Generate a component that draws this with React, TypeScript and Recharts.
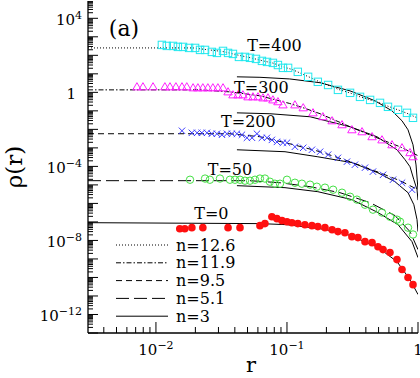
import React from 'react';
import { ComposedChart, Line, Scatter, XAxis, YAxis, ReferenceDot, Legend } from 'recharts';

const FONT = '"DejaVu Serif", "Liberation Serif", serif';

// ---- axes ----
const xDomain = [0.00303, 1];
const yDomain = [1e-13, 8.6e4];
const xLabelExps = [-2, -1, 0];
const yLabelExps = [-12, -8, -4, 0, 4];

// ---- T = 400 (cyan squares) ----
const t400R = [0.0111, 0.0121, 0.0135, 0.0147, 0.0161, 0.0179, 0.0199, 0.0217, 0.0237, 0.0267, 0.0292, 0.0325, 0.0355, 0.0387, 0.043, 0.0478, 0.0522, 0.058, 0.0644, 0.0704, 0.0781, 0.0853, 0.0932, 0.102, 0.121, 0.145, 0.172, 0.206, 0.245, 0.303, 0.361, 0.431, 0.513, 0.59, 0.704, 0.824, 0.916];
const t400Rho = [365, 322, 322, 285, 285, 251, 251, 196, 196, 153, 135, 173, 135, 119, 82, 82, 73, 64, 50, 44, 39, 30, 21, 21, 12.8, 6.9, 3.7, 2.5, 1.36, 0.94, 0.57, 0.39, 0.27, 0.165, 0.114, 0.078, 0.042];
// ---- T = 300 (magenta triangles) ----
const t300R = [0.00716, 0.00796, 0.0095, 0.0117, 0.0128, 0.0142, 0.0158, 0.0172, 0.0192, 0.0209, 0.0228, 0.0249, 0.0272, 0.0297, 0.0325, 0.0355, 0.0387, 0.0423, 0.0461, 0.0504, 0.055, 0.0601, 0.0656, 0.0716, 0.0781, 0.0853, 0.0932, 0.115, 0.133, 0.158, 0.188, 0.221, 0.263, 0.313, 0.374, 0.446, 0.531, 0.633, 0.755, 0.869, 0.916];
const t300Rho = [1.98, 1.98, 1.98, 1.98, 1.98, 1.98, 1.98, 1.98, 1.75, 1.75, 1.75, 1.75, 1.75, 1.75, 1.75, 1.06, 0.73, 0.73, 0.73, 0.57, 0.57, 0.57, 0.5, 0.5, 0.39, 0.31, 0.21, 0.21, 0.146, 0.078, 0.048, 0.029, 0.0177, 0.0095, 0.0074, 0.004, 0.0027, 0.00147, 0.00101, 5.5e-4, 3.3e-4];
// ---- T = 200 (blue crosses) ----
const t200R = [0.0158, 0.0188, 0.0206, 0.0224, 0.0245, 0.0267, 0.0292, 0.0319, 0.0348, 0.038, 0.0415, 0.0453, 0.0495, 0.0541, 0.059, 0.0644, 0.0704, 0.0767, 0.0838, 0.0932, 0.1, 0.115, 0.133, 0.155, 0.179, 0.206, 0.245, 0.287, 0.33, 0.394, 0.453, 0.541, 0.644, 0.755, 0.9];
const t200Rho = [0.0084, 0.0065, 0.0065, 0.0065, 0.0065, 0.0058, 0.0058, 0.0051, 0.0058, 0.0058, 0.0058, 0.0051, 0.0035, 0.0035, 0.0058, 0.0035, 0.0035, 0.0027, 0.0021, 0.0019, 0.0019, 0.00115, 0.00101, 7.9e-4, 6.2e-4, 4.3e-4, 2.9e-4, 1.8e-4, 1.23e-4, 8.5e-5, 5.2e-5, 3.5e-5, 1.9e-5, 1.31e-5, 5.5e-6];
// ---- T = 50 (green open circles) ----
const t50R = [0.0182, 0.0237, 0.0258, 0.0308, 0.0367, 0.0401, 0.0438, 0.0478, 0.0522, 0.057, 0.0622, 0.0679, 0.0741, 0.0809, 0.0884, 0.1, 0.115, 0.13, 0.15, 0.169, 0.195, 0.225, 0.263, 0.303, 0.342, 0.394, 0.453, 0.531, 0.611, 0.691, 0.729, 0.839, 0.916];
const t50Rho = [1.9e-5, 2.2e-5, 1.9e-5, 2.2e-5, 1.9e-5, 1.9e-5, 1.9e-5, 1.69e-5, 1.69e-5, 1.9e-5, 2.2e-5, 2.2e-5, 1.49e-5, 1.16e-5, 1.16e-5, 1.9e-5, 1.31e-5, 1.16e-5, 1.03e-5, 8e-6, 7.1e-6, 5.5e-6, 3.8e-6, 2.3e-6, 1.6e-6, 8.5e-7, 4.6e-7, 3.2e-7, 1.9e-7, 1.33e-7, 1.03e-7, 4.9e-8, 2.1e-8];
// ---- T = 0 (red filled circles) ----
const t0R = [0.0152, 0.0166, 0.0188, 0.0228, 0.0355, 0.0438, 0.0622, 0.0679, 0.0767, 0.0838, 0.0916, 0.1, 0.109, 0.121, 0.137, 0.155, 0.172, 0.195, 0.221, 0.245, 0.277, 0.313, 0.348, 0.394, 0.446, 0.495, 0.541, 0.611, 0.691, 0.755, 0.839, 0.916];
const t0Rho = [4.3e-8, 4.3e-8, 4.9e-8, 4.9e-8, 4.9e-8, 4.9e-8, 6.3e-8, 8.1e-8, 1.9e-7, 1.5e-7, 1.17e-7, 1.03e-7, 9.1e-8, 8.1e-8, 7.1e-8, 6.3e-8, 5.6e-8, 4.9e-8, 3.8e-8, 3e-8, 2.6e-8, 1.6e-8, 1.42e-8, 8.6e-9, 7.6e-9, 4.6e-9, 3.2e-9, 2.2e-9, 9.2e-10, 2.7e-10, 9.9e-11, 4.1e-11];

// ---- polytrope fits ----
const fit126R = [0.00303, 0.0192, 0.0249, 0.0325, 0.043, 0.0522, 0.0644, 0.0781, 0.0932, 0.11, 0.13, 0.155, 0.18, 0.21, 0.25, 0.3, 0.36, 0.43, 0.51, 0.6, 0.7, 0.82, 1.0];
const fit126Rho = [251, 251, 200, 160, 100, 75, 52, 38, 24, 17, 10, 5.8, 3.5, 2.3, 1.4, 0.95, 0.58, 0.39, 0.27, 0.17, 0.115, 0.075, 0.04];
const fit119R = [0.00303, 0.0217, 0.0367, 0.0622, 0.105, 0.14, 0.179, 0.303, 0.513, 0.729, 1.0];
const fit119Rho = [1.36, 1.36, 1.06, 0.65, 0.25, 0.13, 0.07, 0.0138, 0.003, 0.00115, 3.8e-4];
const fit95R = [0.00303, 0.0367, 0.0622, 0.105, 0.179, 0.303, 0.513, 0.729, 1.0];
const fit95Rho = [0.0058, 0.0058, 0.004, 0.00167, 6.2e-4, 1.8e-4, 4.5e-5, 1.69e-5, 5.5e-6];
const fit51R = [0.00303, 0.0522, 0.0884, 0.15, 0.254, 0.431, 0.667, 0.869, 1.0];
const fit51Rho = [1.69e-5, 1.69e-5, 1.31e-5, 8e-6, 3.8e-6, 1.1e-6, 2.2e-7, 3e-8, 3.2e-9];
const n3T400R = [0.0415, 0.0622, 0.105, 0.179, 0.303, 0.47, 0.633, 0.755, 0.839, 0.916, 0.966, 1.0];
const n3T400Rho = [6.9, 6.5, 5.3, 3.3, 1.2, 0.35, 0.1, 0.029, 0.0095, 0.00147, 1.2e-4, 5.5e-6];
const n3T300R = [0.0415, 0.0741, 0.15, 0.303, 0.486, 0.691, 0.796, 0.869, 0.93, 0.983, 1.0];
const n3T300Rho = [0.078, 0.07, 0.048, 0.0138, 0.004, 7.9e-4, 2.3e-4, 9.6e-5, 1.9e-5, 5.5e-6, 1.5e-6];
const n3T200R = [0.0415, 0.0966, 0.172, 0.313, 0.495, 0.667, 0.839, 0.93, 0.983, 1.0];
const n3T200Rho = [7.9e-4, 6.2e-4, 3.3e-4, 1.6e-4, 4.5e-5, 1.49e-5, 3.8e-6, 8.5e-7, 1.33e-7, 3e-8];
const n3T50R = [0.0415, 0.0966, 0.172, 0.313, 0.495, 0.704, 0.9, 1.0];
const n3T50Rho = [9.1e-6, 7.1e-6, 4.3e-6, 1.6e-6, 3.2e-7, 7.1e-8, 8.6e-9, 1.18e-9];
const n3T0R = [0.00303, 0.0622, 0.1, 0.179, 0.268, 0.486, 0.691, 0.869, 1.0];
const n3T0Rho = [9.1e-8, 8.1e-8, 7.1e-8, 4.3e-8, 2.6e-8, 4.6e-9, 7.2e-10, 7.7e-11, 1.2e-11];

// ---- annotations ----
const tLabels = ['T=400', 'T=300', 'T=200', 'T=50', 'T=0'];
const tLabelR = [0.0803, 0.0638, 0.0508, 0.0367, 0.0265];
const tLabelRho = [365, 1.86, 0.0273, 6.6e-5, 3e-7];
const panelLabel = '(a)';
const panelR = 0.0057;
const panelRho = 3000;

const legendLabels = ['n=12.6', 'n=11.9', 'n=9.5', 'n=5.1', 'n=3'];
const legendDash = ['1 2', '5 2 1.5 2', '6 4', '13 5', ''];

const zip = (r: number[], rho: number[]) => r.map((x, i) => ({ x, y: rho[i] }));

function logTicks(min: number, max: number) {
  const out: number[] = [];
  for (let k = Math.floor(Math.log10(min)); k <= Math.ceil(Math.log10(max)); k++) {
    for (let m = 1; m <= 9; m++) {
      const v = parseFloat(`${m}e${k}`);
      if (v >= min * 0.9999 && v <= max * 1.0001) out.push(v);
    }
  }
  return out;
}
const xTicks = logTicks(xDomain[0], xDomain[1]);
const yTicks = logTicks(yDomain[0], yDomain[1]);

function info(v: number) {
  const e = Math.floor(Math.log10(v) + 1e-9);
  const m = Math.round(v / Math.pow(10, e));
  return { e, decade: m === 1 };
}
const fmtExp = (e: number) => (e < 0 ? '\u2212' + -e : String(e));

function ExpText({ e, ...rest }: any) {
  return (
    <text fontFamily={FONT} fontSize={15} fill="#000" {...rest}>
      {e === 0 ? (
        '1'
      ) : (
        <>
          <tspan>10</tspan>
          <tspan dy={-6} fontSize={11}>{fmtExp(e)}</tspan>
        </>
      )}
    </text>
  );
}

function LeftTick(props: any) {
  const { x, y, payload } = props;
  const { e, decade } = info(payload.value);
  const len = decade ? 10 : 5;
  return (
    <g>
      <line x1={x} y1={y} x2={x + len} y2={y} stroke="#000" strokeWidth={1} />
      {decade && yLabelExps.includes(e) && (
        <ExpText e={e} x={e === 0 ? x - 12 : x - 6} y={y + 6.5} textAnchor="end" />
      )}
    </g>
  );
}
function RightTick(props: any) {
  const { x, y, payload } = props;
  const { decade } = info(payload.value);
  const len = decade ? 10 : 5;
  return <line x1={x} y1={y} x2={x - len} y2={y} stroke="#000" strokeWidth={1} />;
}
function BottomTick(props: any) {
  const { x, y, payload } = props;
  const { e, decade } = info(payload.value);
  const len = decade ? 11 : 6;
  return (
    <g>
      <line x1={x} y1={y} x2={x} y2={y - len} stroke="#000" strokeWidth={1} />
      {decade && xLabelExps.includes(e) && <ExpText e={e} x={x} y={y + 22} textAnchor="middle" />}
    </g>
  );
}
function TopTick(props: any) {
  const { x, y, payload } = props;
  const { decade } = info(payload.value);
  const len = decade ? 11 : 6;
  return <line x1={x} y1={y} x2={x} y2={y + len} stroke="#000" strokeWidth={1} />;
}

const CYAN = '#22e8ee';
const MAGENTA = '#ff22ff';
const BLUE = '#3a3aff';
const GREEN = '#44e044';
const RED = '#ff1010';

const Square = (p: any) => (
  <rect x={p.cx - 3.7} y={p.cy - 3.7} width={7.4} height={7.4} fill="none" stroke={CYAN} strokeWidth={1} />
);
const Triangle = (p: any) => (
  <path d={`M${p.cx},${p.cy - 4.2} L${p.cx + 4.2},${p.cy + 3} L${p.cx - 4.2},${p.cy + 3} Z`} fill="none" stroke={MAGENTA} strokeWidth={1} />
);
const Cross = (p: any) => (
  <path d={`M${p.cx - 3.2},${p.cy - 3.2} L${p.cx + 3.2},${p.cy + 3.2} M${p.cx - 3.2},${p.cy + 3.2} L${p.cx + 3.2},${p.cy - 3.2}`} stroke={BLUE} strokeWidth={1} />
);
const OpenCircle = (p: any) => <circle cx={p.cx} cy={p.cy} r={3.7} fill="none" stroke={GREEN} strokeWidth={1} />;
const FilledCircle = (p: any) => <circle cx={p.cx} cy={p.cy} r={3.8} fill={RED} stroke="none" />;

const fitLines = [
  { r: fit126R, rho: fit126Rho, dash: legendDash[0] },
  { r: fit119R, rho: fit119Rho, dash: legendDash[1] },
  { r: fit95R, rho: fit95Rho, dash: legendDash[2] },
  { r: fit51R, rho: fit51Rho, dash: legendDash[3] },
  { r: n3T400R, rho: n3T400Rho, dash: legendDash[4] },
  { r: n3T300R, rho: n3T300Rho, dash: legendDash[4] },
  { r: n3T200R, rho: n3T200Rho, dash: legendDash[4] },
  { r: n3T50R, rho: n3T50Rho, dash: legendDash[4] },
  { r: n3T0R, rho: n3T0Rho, dash: legendDash[4] },
];

const scatters = [
  { r: t400R, rho: t400Rho, shape: Square },
  { r: t300R, rho: t300Rho, shape: Triangle },
  { r: t200R, rho: t200Rho, shape: Cross },
  { r: t50R, rho: t50Rho, shape: OpenCircle },
  { r: t0R, rho: t0Rho, shape: FilledCircle },
];

const LegendBox = () => (
  <svg width={140} height={92} style={{ display: 'block', overflow: 'visible' }}>
    {legendLabels.map((lab, i) => {
      const cy = 9 + i * 17.8;
      return (
        <g key={lab}>
          <line x1={6} x2={58} y1={cy} y2={cy} stroke="#000" strokeWidth={1} strokeDasharray={legendDash[i] || undefined} />
          <text x={66} y={cy + 5.5} fontFamily={FONT} fontSize={16} fill="#000">{lab}</text>
        </g>
      );
    })}
  </svg>
);

const YLabel = (props: any) => {
  const vb = props.viewBox || { x: 0, y: 1, height: 332 };
  const cx = vb.x + 14;
  const cy = vb.y + vb.height / 2;
  return (
    <text x={cx} y={cy} transform={`rotate(-90, ${cx}, ${cy})`} textAnchor="middle" dominantBaseline="central" fontFamily={FONT} fontSize={23} fill="#000">
      ρ(r)
    </text>
  );
};
const XLabel = (props: any) => {
  const vb = props.viewBox || { x: 88, y: 333, width: 330 };
  return (
    <text x={vb.x + 163} y={vb.y + 39} textAnchor="middle" fontFamily={FONT} fontSize={21} fill="#000">
      r
    </text>
  );
};

export default function App() {
  return (
    <div style={{ position: 'absolute', left: 0, top: 0, width: 420, height: 378, background: '#fff' }}>
      <ComposedChart width={420} height={378} margin={{ top: 1, right: 2, bottom: 0, left: 0 }}>
        <XAxis xAxisId={0} dataKey="x" type="number" scale="log" domain={xDomain} allowDataOverflow ticks={xTicks} interval={0}
          tick={BottomTick} tickLine={false} tickSize={0} tickMargin={0} height={45} axisLine={{ stroke: '#000', strokeWidth: 1.3 }} label={XLabel} />
        <XAxis xAxisId="top" orientation="top" dataKey="x" type="number" scale="log" domain={xDomain} allowDataOverflow ticks={xTicks} interval={0}
          tick={TopTick} tickLine={false} tickSize={0} tickMargin={0} height={0} axisLine={{ stroke: '#000', strokeWidth: 1.3 }} />
        <YAxis yAxisId={0} dataKey="y" type="number" scale="log" domain={yDomain} allowDataOverflow ticks={yTicks} interval={0}
          tick={LeftTick} tickLine={false} tickSize={0} tickMargin={0} width={88} axisLine={{ stroke: '#000', strokeWidth: 1.3 }} label={YLabel} />
        <YAxis yAxisId="right" orientation="right" dataKey="y" type="number" scale="log" domain={yDomain} allowDataOverflow ticks={yTicks} interval={0}
          tick={RightTick} tickLine={false} tickSize={0} tickMargin={0} width={0} axisLine={{ stroke: '#000', strokeWidth: 1.3 }} />

        {fitLines.map((f, i) => (
          <Line key={'f' + i} data={zip(f.r, f.rho)} dataKey="y" xAxisId={0} yAxisId={0} type="linear" stroke="#000" strokeWidth={1}
            strokeDasharray={f.dash || undefined} dot={false} activeDot={false} isAnimationActive={false} />
        ))}
        {scatters.map((s, i) => (
          <Scatter key={'s' + i} data={zip(s.r, s.rho)} xAxisId={0} yAxisId={0} shape={s.shape} isAnimationActive={false} />
        ))}

        {tLabels.map((t, i) => (
          <ReferenceDot key={t} x={tLabelR[i]} y={tLabelRho[i]} xAxisId={0} yAxisId={0} r={0} fill="none" stroke="none"
            label={{ value: t, position: 'center', fontSize: 16, fontFamily: FONT, fill: '#000' }} />
        ))}
        <ReferenceDot x={panelR} y={panelRho} xAxisId={0} yAxisId={0} r={0} fill="none" stroke="none"
          label={{ value: panelLabel, position: 'center', fontSize: 22, fontFamily: FONT, fill: '#000' }} />

        <Legend layout="vertical" align="center" verticalAlign="middle" content={LegendBox}
          wrapperStyle={{ left: 110, top: 236, width: 140, height: 92 }} />
      </ComposedChart>
    </div>
  );
}
